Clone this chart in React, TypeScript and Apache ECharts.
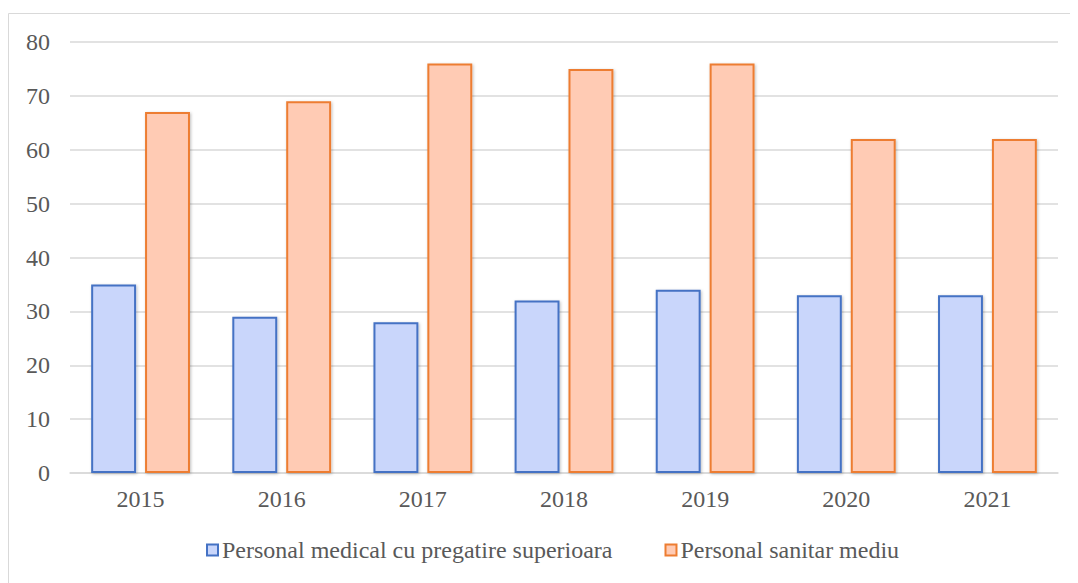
import React, { useEffect, useRef } from "react";
import * as echarts from "echarts";

const years = ["2015", "2016", "2017", "2018", "2019", "2020", "2021"];
const medicalSuperior = [35, 29, 28, 32, 34, 33, 33];
const sanitarMediu = [67, 69, 76, 75, 76, 62, 62];
const seriesNames = ["Personal medical cu pregatire superioara", "Personal sanitar mediu"];

export default function App() {
  const ref = useRef<HTMLDivElement>(null);
  useEffect(() => {
    const chart = echarts.init(ref.current!, null, { renderer: "svg" });
    const font = "Liberation Serif";
    chart.setOption({
      animation: false,
      textStyle: { fontFamily: font, fontSize: 24 },
      graphic: [
        {
          type: "rect",
          shape: { x: 0.5, y: 5.5, width: 1200, height: 700 },
          style: { fill: "none", stroke: "#d9d9d9", lineWidth: 1 },
          silent: true,
        },
      ],
      grid: { left: 62, top: 34, width: 988, height: 431, containLabel: false },
      legend: {
        top: 525,
        left: 193,
        itemWidth: 11,
        itemHeight: 11,
        itemGap: 52,
        icon: "rect",
        textStyle: {
          fontFamily: font,
          fontSize: 24,
          color: "#595959",
          padding: [0, 0, 0, -1],
        },
        data: seriesNames,
      },
      xAxis: {
        type: "category",
        data: years,
        axisLine: { lineStyle: { color: "#d9d9d9", width: 1.5 } },
        axisTick: { show: false },
        axisLabel: { fontFamily: font, fontSize: 24, color: "#595959", margin: 14 },
      },
      yAxis: {
        type: "value",
        min: 0,
        max: 80,
        interval: 10,
        axisLine: { show: false },
        axisTick: { show: false },
        splitLine: { lineStyle: { color: "#d9d9d9", width: 1.5 } },
        axisLabel: { fontFamily: font, fontSize: 24, color: "#595959", margin: 20 },
      },
      series: [
        {
          name: seriesNames[0],
          type: "bar",
          data: medicalSuperior,
          barGap: "20%",
          barCategoryGap: "30%",
          itemStyle: {
            color: "#c9d6fb",
            borderColor: "#4472c4",
            borderWidth: 2,
            shadowBlur: 3,
            shadowColor: "rgba(0,0,0,0.25)",
            shadowOffsetX: 1,
            shadowOffsetY: 1,
          },
        },
        {
          name: seriesNames[1],
          type: "bar",
          data: sanitarMediu,
          barGap: "20%",
          barCategoryGap: "30%",
          itemStyle: {
            color: "#ffcbb4",
            borderColor: "#ed7d31",
            borderWidth: 2,
            shadowBlur: 3,
            shadowColor: "rgba(0,0,0,0.25)",
            shadowOffsetX: 1,
            shadowOffsetY: 1,
          },
        },
      ],
    });
    return () => chart.dispose();
  }, []);
  return <div ref={ref} style={{ width: 1070, height: 575 }} />;
}
